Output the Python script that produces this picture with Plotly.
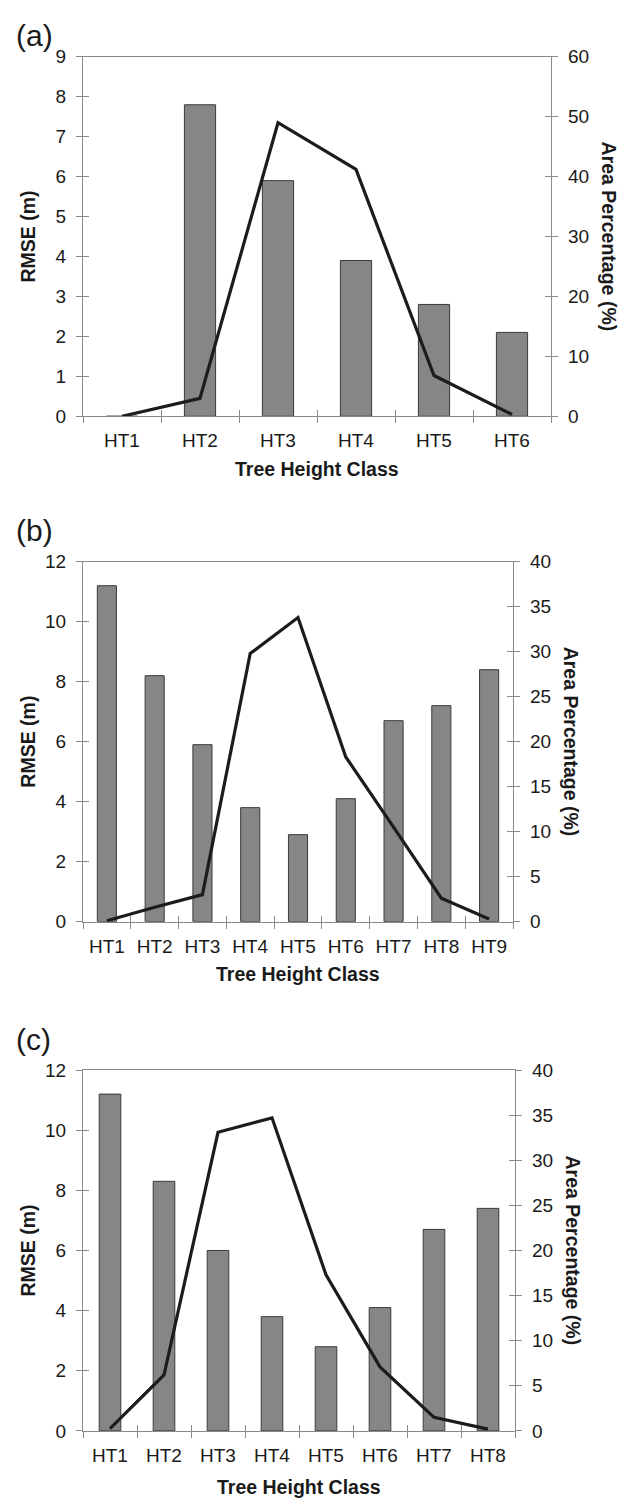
import plotly.graph_objects as go

# ---------------- data ----------------
cats_a = ["HT1", "HT2", "HT3", "HT4", "HT5", "HT6"]
rmse_a = [0.0, 7.8, 5.9, 3.9, 2.8, 2.1]
area_a = [0.0, 3.0, 49.0, 41.2, 6.8, 0.3]

cats_b = ["HT1", "HT2", "HT3", "HT4", "HT5", "HT6", "HT7", "HT8", "HT9"]
rmse_b = [11.2, 8.2, 5.9, 3.8, 2.9, 4.1, 6.7, 7.2, 8.4]
area_b = [0.1, 1.6, 3.0, 29.8, 33.8, 18.3, 10.5, 2.6, 0.3]

cats_c = ["HT1", "HT2", "HT3", "HT4", "HT5", "HT6", "HT7", "HT8"]
rmse_c = [11.2, 8.3, 6.0, 3.8, 2.8, 4.1, 6.7, 7.4]
area_c = [0.25, 6.2, 33.1, 34.7, 17.3, 7.1, 1.5, 0.2]

panel_labels = ["(a)", "(b)", "(c)"]
left_title = "RMSE (m)"
right_title = "Area Percentage (%)"
x_title = "Tree Height Class"

# ---------------- layout geometry (pixels) ----------------
W, H = 626, 1508
panels = [
    dict(cats=cats_a, rmse=rmse_a, area=area_a, lmax=9, ldt=1, rmax=60, rdt=10,
         x0=83, x1=551, y0=47.5, y1=412, lab_y=26, xt_y=465),
    dict(cats=cats_b, rmse=rmse_b, area=area_b, lmax=12, ldt=2, rmax=40, rdt=5,
         x0=83, x1=513, y0=559.5, y1=924.5, lab_y=528, xt_y=978),
    dict(cats=cats_c, rmse=rmse_c, area=area_c, lmax=12, ldt=2, rmax=40, rdt=5,
         x0=83, x1=515, y0=1075, y1=1441, lab_y=1044, xt_y=1498),
]

FONT = "Liberation Sans, Arial, Helvetica, sans-serif"
TXT = "#1a1a1a"
AX = "#8a8a8a"
BAR_FILL = "#868686"
BAR_LINE = "#3a3a3a"
LINE_COL = "#1c1c1c"
TICK_FS = 19
TITLE_FS = 19.5
LABEL_FS = 30


def px_x(v):
    return v / W


def px_y(v):
    return 1 - v / H


def ax_key(kind, n):
    return f"{kind}axis" if n == 1 else f"{kind}axis{n}"


def ax_ref(kind, n):
    return kind if n == 1 else f"{kind}{n}"


fig = go.Figure()
layout_axes = {}
annotations = []

xn = 0
yn = 0
for i, p in enumerate(panels):
    n = len(p["cats"])
    xm = xn + 1
    xi = xn + 2
    xn += 2
    yl = yn + 1
    yli = yn + 2
    yr = yn + 3
    yri = yn + 4
    yn += 4

    xdom = [px_x(p["x0"]), px_x(p["x1"])]
    ydom = [px_y(p["y1"]), px_y(p["y0"])]

    common_line = dict(showline=True, linecolor=AX, linewidth=1.3, tickcolor=AX,
                       tickwidth=1.3, showgrid=False, zeroline=False)

    layout_axes[ax_key("x", xm)] = dict(
        type="category", domain=xdom, anchor=ax_ref("y", yl), range=[-0.5, n - 0.5],
        ticks="outside", ticklen=6, tickson="boundaries", mirror=True,
        tickfont=dict(family=FONT, size=TICK_FS, color=TXT), ticklabelstandoff=7,
        fixedrange=True, **common_line)
    layout_axes[ax_key("x", xi)] = dict(
        type="linear", overlaying=ax_ref("x", xm), anchor=ax_ref("y", yl),
        range=[-0.5, n - 0.5], tickmode="array",
        tickvals=[k - 0.5 for k in range(n + 1)], ticks="inside", ticklen=6,
        showticklabels=False, showline=False, tickcolor=AX, tickwidth=1.3,
        showgrid=False, zeroline=False)
    layout_axes[ax_key("y", yl)] = dict(
        domain=ydom, anchor=ax_ref("x", xm), range=[0, p["lmax"]], dtick=p["ldt"],
        tick0=0, ticks="outside", ticklen=6,
        tickfont=dict(family=FONT, size=TICK_FS, color=TXT), ticklabelstandoff=6,
        **common_line)
    layout_axes[ax_key("y", yli)] = dict(
        overlaying=ax_ref("y", yl), anchor=ax_ref("x", xm), range=[0, p["lmax"]],
        dtick=p["ldt"], tick0=0, ticks="inside", ticklen=6, showticklabels=False,
        showline=False, tickcolor=AX, tickwidth=1.3, showgrid=False, zeroline=False)
    layout_axes[ax_key("y", yr)] = dict(
        overlaying=ax_ref("y", yl), anchor=ax_ref("x", xm), side="right",
        range=[0, p["rmax"]], dtick=p["rdt"], tick0=0, ticks="outside", ticklen=6,
        tickfont=dict(family=FONT, size=TICK_FS, color=TXT), ticklabelstandoff=6,
        **common_line)
    layout_axes[ax_key("y", yri)] = dict(
        overlaying=ax_ref("y", yl), anchor=ax_ref("x", xm), side="right",
        range=[0, p["rmax"]], dtick=p["rdt"], tick0=0, ticks="inside", ticklen=6,
        showticklabels=False, showline=False, tickcolor=AX, tickwidth=1.3,
        showgrid=False, zeroline=False)

    fig.add_trace(go.Bar(
        x=p["cats"], y=p["rmse"], width=0.4,
        marker=dict(color=BAR_FILL, line=dict(color=BAR_LINE, width=1)),
        xaxis=ax_ref("x", xm), yaxis=ax_ref("y", yl), showlegend=False))
    fig.add_trace(go.Scatter(
        x=p["cats"], y=p["area"], mode="lines",
        line=dict(color=LINE_COL, width=3.2),
        xaxis=ax_ref("x", xm), yaxis=ax_ref("y", yr), showlegend=False))
    # empty helper traces so the tick-only overlay axes are drawn
    fig.add_trace(go.Scatter(x=[], y=[], xaxis=ax_ref("x", xi),
                             yaxis=ax_ref("y", yli), showlegend=False,
                             hoverinfo="skip"))
    fig.add_trace(go.Scatter(x=[], y=[], xaxis=ax_ref("x", xm),
                             yaxis=ax_ref("y", yri), showlegend=False,
                             hoverinfo="skip"))

    cy = (p["y0"] + p["y1"]) / 2
    annotations += [
        dict(text=panel_labels[i], x=px_x(14), y=px_y(p["lab_y"]), xref="paper",
             yref="paper", xanchor="left", yanchor="middle", showarrow=False,
             font=dict(family=FONT, size=LABEL_FS, color=TXT)),
        dict(text=f"<b>{left_title}</b>", x=px_x(28), y=px_y(cy), xref="paper",
             yref="paper", xanchor="center", yanchor="middle", showarrow=False,
             textangle=-90, font=dict(family=FONT, size=TITLE_FS, color=TXT)),
        dict(text=f"<b>{right_title}</b>", x=px_x(p["x1"] + 58), y=px_y(cy),
             xref="paper", yref="paper", xanchor="center", yanchor="middle",
             showarrow=False, textangle=90,
             font=dict(family=FONT, size=TITLE_FS, color=TXT)),
        dict(text=f"<b>{x_title}</b>", x=px_x((p["x0"] + p["x1"]) / 2),
             y=px_y(p["xt_y"]), xref="paper", yref="paper", xanchor="center",
             yanchor="middle", showarrow=False,
             font=dict(family=FONT, size=TITLE_FS, color=TXT)),
    ]

fig.update_layout(
    width=W, height=H, autosize=False,
    margin=dict(l=0, r=0, t=0, b=0),
    paper_bgcolor="white", plot_bgcolor="white",
    showlegend=False, bargap=0.6,
    annotations=annotations,
    **layout_axes,
)

fig.write_html(
    "out.html",
    config={"displayModeBar": False},
    post_script="document.body.style.margin='0';document.body.style.overflow='hidden';",
)
